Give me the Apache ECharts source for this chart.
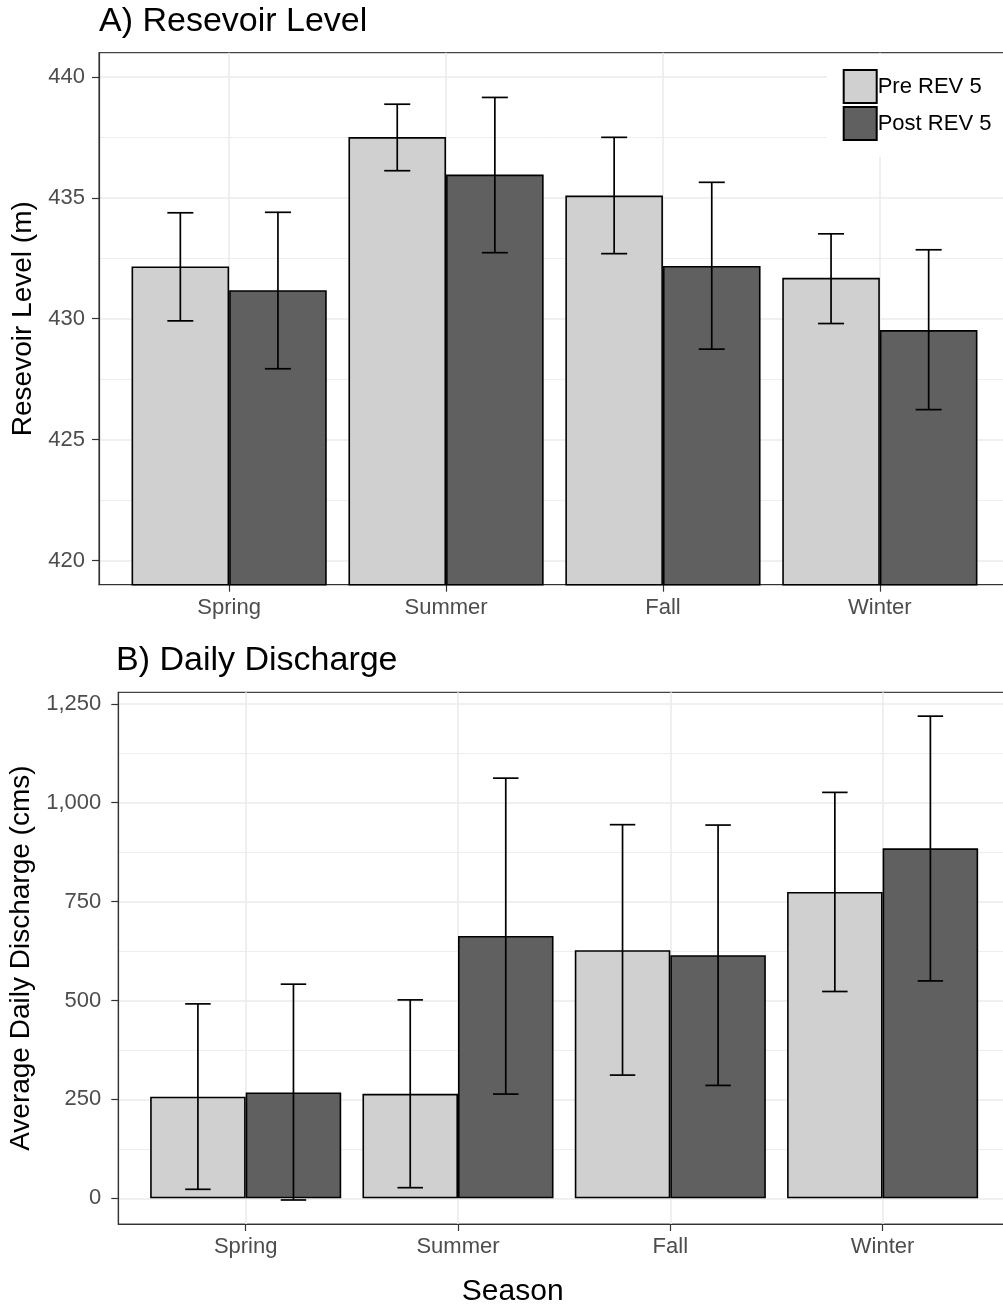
<!DOCTYPE html>
<html>
<head>
<meta charset="utf-8">
<title>Reservoir level and daily discharge by season</title>
<script src="https://cdn.jsdelivr.net/npm/echarts@6/dist/echarts.min.js"></script>
<style>
  html, body { margin: 0; padding: 0; background: #fff; }
  #chart { width: 1003px; height: 1305px; }
</style>
</head>
<body>
<div id="chart"></div>
<script>
// Seasons (x categories) and the two periods compared
const seasons = ['Spring', 'Summer', 'Fall', 'Winter'];
const periods = ['Pre REV 5', 'Post REV 5'];

// A) Reservoir level (m): means and error-bar limits
const levelPre      = [432.16, 437.51, 435.09, 431.69];
const levelPost     = [431.18, 435.96, 432.18, 429.53];
const levelPreLow   = [429.91, 436.12, 432.69, 429.80];
const levelPreHigh  = [434.38, 438.87, 437.50, 433.51];
const levelPostLow  = [427.93, 432.73, 428.74, 426.24];
const levelPostHigh = [434.40, 439.15, 435.64, 432.85];

// B) Average daily discharge (cms): means and error-bar limits
const dischargePre      = [256.6, 264.1, 627.0, 774.3];
const dischargePost     = [267.7, 663.2, 614.4, 884.6];
const dischargePreLow   = [22.7, 26.8, 311.4, 522.7];
const dischargePreHigh  = [491.4, 501.5, 944.4, 1026.0];
const dischargePostLow  = [-4.3, 263.4, 285.3, 549.5];
const dischargePostHigh = [541.2, 1062.0, 943.4, 1218.7];

// Axis ticks
const levelTicks = [420, 425, 430, 435, 440];
const levelMinorTicks = [422.5, 427.5, 432.5, 437.5];
const dischargeTicks = [0, 250, 500, 750, 1000, 1250];
const dischargeMinorTicks = [125, 375, 625, 875, 1125];

const FONT = "'Liberation Sans', Arial, Helvetica, sans-serif";
const PRE_COLOR = '#d0d0d0';
const POST_COLOR = '#606060';
const DODGE = 0.225;     // half of the dodge spacing, in category units
const CAP = 0.12;        // error-bar cap width, in category units

const seasonPos = seasons.map((s, i) => i + 1);

function xAxisFor(gridIndex) {
  return {
    type: 'value', gridIndex, min: 0.4, max: 4.6,
    axisLine: { show: true, onZero: false, lineStyle: { color: '#333', width: 1.2 } },
    axisTick: { show: true, length: 7, customValues: seasonPos, lineStyle: { color: '#333', width: 1.2 } },
    axisLabel: {
      customValues: seasonPos, margin: 12, fontSize: 22, color: '#4d4d4d', fontFamily: FONT,
      formatter: v => seasons[Math.round(v) - 1]
    },
    splitLine: { show: true, lineStyle: { color: '#ebebeb', width: 1.6 } }
  };
}

function yAxisFor(gridIndex, min, max, ticks, name, nameGap, labelMargin, fmt) {
  return {
    type: 'value', gridIndex, min, max, position: 'left',
    name, nameLocation: 'middle', nameGap,
    nameTextStyle: { fontSize: 28, color: '#000', fontFamily: FONT },
    axisLine: { show: true, lineStyle: { color: '#333', width: 1.2 } },
    axisTick: { show: true, length: 7, customValues: ticks, lineStyle: { color: '#333', width: 1.2 } },
    axisLabel: { customValues: ticks, margin: labelMargin, fontSize: 22, color: '#4d4d4d', fontFamily: FONT, formatter: fmt },
    splitLine: { show: true, lineStyle: { color: '#ebebeb', width: 1.6 } }
  };
}

function minorAxisFor(gridIndex, min, max, ticks) {
  return {
    type: 'value', gridIndex, min, max, position: 'right',
    axisLine: { show: false },
    axisTick: { show: false, customValues: ticks },
    axisLabel: { show: false, customValues: ticks },
    splitLine: { show: true, lineStyle: { color: '#eeeeee', width: 1 } }
  };
}

function barSeries(name, values, color, axisIndex) {
  return {
    type: 'bar', name,
    xAxisIndex: axisIndex, yAxisIndex: axisIndex * 2,
    data: values.map((v, i) => [i + 1, v]),
    barGap: '0%', barCategoryGap: '10%',
    itemStyle: { color, borderColor: '#000', borderWidth: 1.6 },
    emphasis: { disabled: true },
    z: 2
  };
}

function errorSeries(low, high, offset, axisIndex) {
  return {
    type: 'custom',
    xAxisIndex: axisIndex, yAxisIndex: axisIndex * 2,
    data: low.map((lo, i) => [i + 1 + offset, lo, high[i]]),
    encode: { x: 0, y: [1, 2] },
    z: 3,
    silent: true,
    renderItem: function (params, api) {
      const x = api.value(0);
      const pLo = api.coord([x, api.value(1)]);
      const pHi = api.coord([x, api.value(2)]);
      const half = api.size([CAP, 0])[0] / 2;
      const style = { stroke: '#000', lineWidth: 1.7 };
      return {
        type: 'group',
        children: [
          { type: 'line', shape: { x1: pLo[0], y1: pLo[1], x2: pHi[0], y2: pHi[1] }, style },
          { type: 'line', shape: { x1: pLo[0] - half, y1: pLo[1], x2: pLo[0] + half, y2: pLo[1] }, style },
          { type: 'line', shape: { x1: pHi[0] - half, y1: pHi[1], x2: pHi[0] + half, y2: pHi[1] }, style }
        ]
      };
    }
  };
}

const chart = echarts.init(document.getElementById('chart'), null, { renderer: 'canvas' });

chart.setOption({
  backgroundColor: '#fff',
  animation: false,
  textStyle: { fontFamily: FONT },
  title: [
    { text: 'A) Resevoir Level', left: 99, top: 4.5, padding: 0,
      textStyle: { fontSize: 34, fontWeight: 'normal', color: '#000', fontFamily: FONT } },
    { text: 'B) Daily Discharge', left: 116, top: 644, padding: 0,
      textStyle: { fontSize: 34, fontWeight: 'normal', color: '#000', fontFamily: FONT } }
  ],
  legend: {
    data: periods,
    orient: 'vertical',
    left: 827, top: 54,
    padding: [15, 40, 16, 15.7],
    itemGap: 2, itemWidth: 33, itemHeight: 33,
    icon: 'rect',
    backgroundColor: '#fff',
    selectedMode: false,
    textStyle: { fontSize: 22, color: '#000', fontFamily: FONT, padding: [0, 0, 0, -4] },
    z: 10
  },
  grid: [
    { left: 99, top: 52.7, width: 911, height: 532, outerBoundsMode: 'none', containLabel: false,
      show: true, borderColor: '#444', borderWidth: 1.2, backgroundColor: 'transparent' },
    { left: 118.3, top: 692.3, width: 891.7, height: 531.7, outerBoundsMode: 'none', containLabel: false,
      show: true, borderColor: '#444', borderWidth: 1.2, backgroundColor: 'transparent' }
  ],
  xAxis: [xAxisFor(0), xAxisFor(1)],
  yAxis: [
    yAxisFor(0, 419, 441, levelTicks, 'Resevoir Level (m)', 58.7, 14, v => String(v)),
    minorAxisFor(0, 419, 441, levelMinorTicks),
    yAxisFor(1, -65, 1279, dischargeTicks, 'Average Daily Discharge (cms)', 78, 17, v => v.toLocaleString('en-US')),
    minorAxisFor(1, -65, 1279, dischargeMinorTicks)
  ],
  graphic: [
    { type: 'text', x: 512.7, y: 1291.6,
      style: { text: 'Season', fontSize: 30, fontFamily: FONT, fill: '#000', align: 'center', verticalAlign: 'middle' } }
  ],
  series: [
    barSeries(periods[0], levelPre, PRE_COLOR, 0),
    barSeries(periods[1], levelPost, POST_COLOR, 0),
    errorSeries(levelPreLow, levelPreHigh, -DODGE, 0),
    errorSeries(levelPostLow, levelPostHigh, DODGE, 0),
    barSeries(periods[0], dischargePre, PRE_COLOR, 1),
    barSeries(periods[1], dischargePost, POST_COLOR, 1),
    errorSeries(dischargePreLow, dischargePreHigh, -DODGE, 1),
    errorSeries(dischargePostLow, dischargePostHigh, DODGE, 1)
  ]
});
</script>
</body>
</html>
